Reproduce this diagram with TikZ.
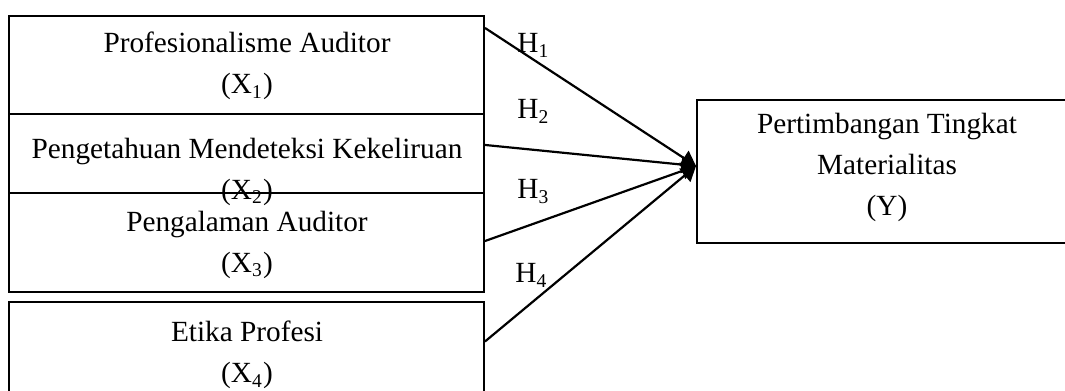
\documentclass[tikz,border=0pt]{standalone}
\usepackage{fontspec}
\setmainfont{Liberation Serif}
\usetikzlibrary{arrows.meta}
\tikzset{
	varbox/.style={draw, line width=0.8pt, rectangle, inner sep=0pt, minimum width=194.75pt},
	vartext/.style={align=center, font=\fontsize{12}{16.8}\selectfont},
	hyp/.style={anchor=base west, inner sep=0pt, font=\fontsize{12}{14}\selectfont},
	arr/.style={line width=0.9pt, -{Triangle[length=6pt,width=7pt]}}
}

\begin{document}
\begin{tikzpicture}[x=0.41pt, y=-0.41pt]
			%%%%% START %%%%%
			
			\useasboundingbox (0, 0) rectangle (1065, 391);
			
			% variabel X
			\node[varbox, minimum height=40.18pt] (x1) at (246.5, 65) {};
			\node[varbox, minimum height=32.39pt] (x2) at (246.5, 153.5) {};
			\node[varbox, minimum height=40.59pt] (x3) at (246.5, 242.5) {};
			\node[varbox, minimum height=37.31pt] (x4) at (246.5, 347.5) {};
			
			\node[vartext] (t1) at (247, 66) {Profesionalisme Auditor\\(X\textsubscript{1})};
			\node[vartext] (t2) at (247, 171.5) {Pengetahuan Mendeteksi Kekeliruan\\(X\textsubscript{2})};
			\node[vartext] (t3) at (247, 244.5) {Pengalaman Auditor\\(X\textsubscript{3})};
			\node[vartext] (t4) at (247, 355) {Etika Profesi\\(X\textsubscript{4})};
			
			% variabel Y
			\node[varbox, minimum width=155.8pt, minimum height=58.63pt] (y) at (887, 171.5) {};
			\node[vartext] (ty) at (887, 167.5) {Pertimbangan Tingkat\\Materialitas\\(Y)};
			
			% hipotesis
			\draw[arr] ([yshift=-5.3pt]x1.north east) -- ([yshift=2.25pt]y.west);
			\draw[arr] ([yshift=3.5pt]x2.east) -- ([yshift=2.25pt]y.west);
			\draw[arr] ([yshift=0.6pt]x3.east) -- ([yshift=2.25pt]y.west);
			\draw[arr] ([yshift=-16.6pt]x4.north east) -- ([yshift=2.25pt]y.west);
			
			\node[hyp] (h1) at (517, 53) {H\textsubscript{1}};
			\node[hyp] (h2) at (517, 119) {H\textsubscript{2}};
			\node[hyp] (h3) at (517, 199) {H\textsubscript{3}};
			\node[hyp] (h4) at (515, 283) {H\textsubscript{4}};
			
			%%%%% END %%%%%
\end{tikzpicture}
\end{document}
